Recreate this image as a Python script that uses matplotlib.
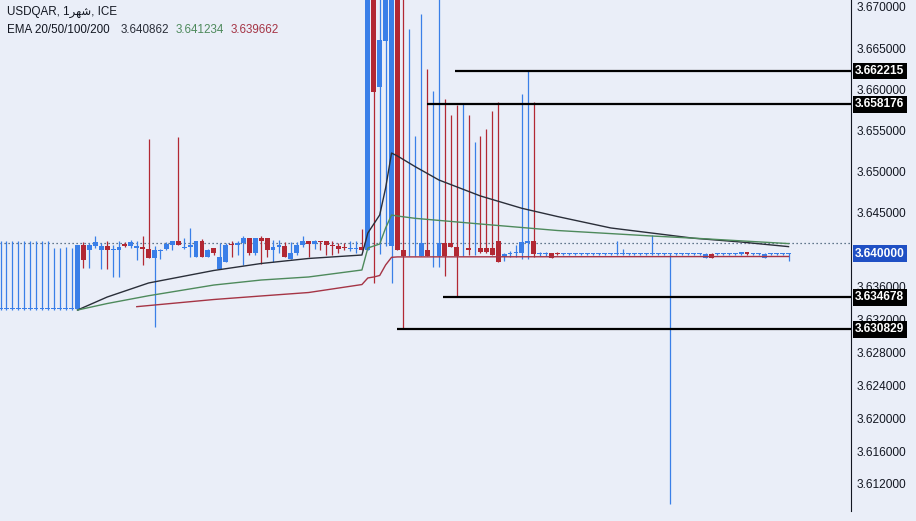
import matplotlib
matplotlib.use('Agg')
import matplotlib.pyplot as plt
from matplotlib.transforms import blended_transform_factory

plt.rcParams['font.family'] = ['Liberation Sans', 'DejaVu Sans']

# ---------------- data (monthly candles) ----------------
opens = [
    3.6333, 3.6333, 3.6333, 3.6333, 3.6333, 3.6333, 3.6333, 3.6333, 3.6333, 3.6333,
    3.6333, 3.6333, 3.6333, 3.6333, 3.6410, 3.6405, 3.6409, 3.6405, 3.6409, 3.6404,
    3.6405, 3.6412, 3.6409, 3.6407, 3.6408, 3.6406, 3.6395, 3.6403, 3.6406, 3.6411,
    3.6415, 3.6407, 3.6408, 3.6396, 3.6415, 3.6396, 3.6407, 3.6382, 3.6390, 3.6412,
    3.6410, 3.6413, 3.6419, 3.6401, 3.6419, 3.6419, 3.6404, 3.6408, 3.6409, 3.6394,
    3.6401, 3.6410, 3.6416, 3.6412, 3.6415, 3.6415, 3.6411, 3.6409, 3.6408, 3.6406,
    3.6406, 3.6408, 3.6405, 3.6850, 3.6603, 3.6659, 3.6409, 3.6850, 3.6404, 3.6398,
    3.6398, 3.6397, 3.6404, 3.6398, 3.6397, 3.6413, 3.6413, 3.6408, 3.6398, 3.6407,
    3.6404, 3.6407, 3.6407, 3.6407, 3.6415, 3.6396, 3.6400, 3.6401, 3.6401, 3.6413,
    3.6415, 3.6400, 3.6400, 3.6401, 3.6401, 3.6400, 3.6400, 3.6400, 3.6400, 3.6400,
    3.6400, 3.6400, 3.6400, 3.6400, 3.6400, 3.6400, 3.6400, 3.6400, 3.6400, 3.6400,
    3.6400, 3.6400, 3.6400, 3.6400, 3.6400, 3.6400, 3.6400, 3.6400, 3.6400, 3.6395,
    3.6400, 3.6400, 3.6400, 3.6400, 3.6400, 3.6400, 3.6402, 3.6400, 3.6400, 3.6395,
    3.6400, 3.6400, 3.6400, 3.6400,
]
highs = [
    3.6415, 3.6415, 3.6415, 3.6415, 3.6415, 3.6415, 3.6415, 3.6415, 3.6415, 3.6407,
    3.6407, 3.6408, 3.6407, 3.6411, 3.6414, 3.6413, 3.6421, 3.6413, 3.6415, 3.6411,
    3.6415, 3.6414, 3.6417, 3.6415, 3.6422, 3.6540, 3.6409, 3.6406, 3.6414, 3.6416,
    3.6542, 3.6419, 3.6431, 3.6415, 3.6418, 3.6406, 3.6407, 3.6413, 3.6413, 3.6415,
    3.6415, 3.6422, 3.6419, 3.6419, 3.6421, 3.6419, 3.6417, 3.6417, 3.6414, 3.6414,
    3.6414, 3.6422, 3.6416, 3.6417, 3.6416, 3.6415, 3.6415, 3.6413, 3.6413, 3.6415,
    3.6415, 3.6430, 3.6900, 3.6900, 3.6900, 3.6900, 3.6900, 3.6900, 3.6900, 3.6673,
    3.6543, 3.6692, 3.6625, 3.6598, 3.6900, 3.6588, 3.6569, 3.6581, 3.6582, 3.6569,
    3.6536, 3.6543, 3.6552, 3.6574, 3.6584, 3.6401, 3.6403, 3.6411, 3.6594, 3.66222,
    3.6584, 3.6402, 3.6402, 3.6401, 3.6402, 3.6401, 3.6401, 3.6401, 3.6401, 3.6401,
    3.6401, 3.6401, 3.6401, 3.6401, 3.6415, 3.6406, 3.6401, 3.6401, 3.6401, 3.6401,
    3.6423, 3.6401, 3.6401, 3.6401, 3.6401, 3.6401, 3.6401, 3.6401, 3.6401, 3.6401,
    3.6401, 3.6401, 3.6401, 3.6401, 3.6401, 3.6402, 3.6402, 3.6401, 3.6401, 3.6401,
    3.6401, 3.6401, 3.6401, 3.6401,
]
lows = [
    3.6332, 3.6332, 3.6332, 3.6332, 3.6332, 3.6332, 3.6332, 3.6332, 3.6332, 3.6332,
    3.6332, 3.6332, 3.6332, 3.6332, 3.6383, 3.6383, 3.6407, 3.6382, 3.6382, 3.6372,
    3.6372, 3.6408, 3.6407, 3.6392, 3.6386, 3.6395, 3.6311, 3.6394, 3.6405, 3.6405,
    3.6410, 3.6406, 3.6396, 3.6396, 3.6396, 3.6396, 3.6399, 3.6382, 3.6390, 3.6396,
    3.6399, 3.6386, 3.6399, 3.6399, 3.6388, 3.6396, 3.6390, 3.6401, 3.6396, 3.6394,
    3.6399, 3.6408, 3.6396, 3.6406, 3.6405, 3.6399, 3.6399, 3.6401, 3.6404, 3.6403,
    3.6401, 3.6405, 3.6405, 3.6364, 3.6400, 3.6409, 3.6364, 3.6405, 3.630829, 3.6397,
    3.6397, 3.6397, 3.6397, 3.6384, 3.6384, 3.6373, 3.6408, 3.634678, 3.6397, 3.6399,
    3.6399, 3.6401, 3.6401, 3.6398, 3.6390, 3.6391, 3.6396, 3.6396, 3.6394, 3.6394,
    3.6396, 3.6397, 3.6397, 3.6395, 3.6399, 3.6398, 3.6398, 3.6398, 3.6398, 3.6398,
    3.6398, 3.6398, 3.6398, 3.6398, 3.6398, 3.6398, 3.6398, 3.6398, 3.6398, 3.6398,
    3.6398, 3.6398, 3.6398, 3.6096, 3.6398, 3.6398, 3.6398, 3.6398, 3.6398, 3.6395,
    3.6395, 3.6398, 3.6398, 3.6398, 3.6398, 3.6398, 3.6398, 3.6398, 3.6398, 3.6395,
    3.6398, 3.6398, 3.6398, 3.6391,
]
closes = [
    3.6333, 3.6333, 3.6333, 3.6333, 3.6333, 3.6333, 3.6333, 3.6333, 3.6333, 3.6333,
    3.6333, 3.6333, 3.6333, 3.6410, 3.6392, 3.6410, 3.6414, 3.6409, 3.6404, 3.6406,
    3.6408, 3.6409, 3.6414, 3.6409, 3.6406, 3.6395, 3.6404, 3.6404, 3.6412, 3.6415,
    3.6411, 3.6408, 3.6411, 3.6415, 3.6396, 3.6405, 3.6401, 3.6396, 3.6411, 3.6410,
    3.6413, 3.6419, 3.6401, 3.6419, 3.6416, 3.6405, 3.6408, 3.6411, 3.6396, 3.6401,
    3.6411, 3.6416, 3.6412, 3.6416, 3.6414, 3.6410, 3.6409, 3.6406, 3.6407, 3.6407,
    3.6407, 3.6405, 3.6850, 3.6597, 3.6660, 3.6850, 3.6850, 3.6405, 3.6397, 3.6399,
    3.6399, 3.6413, 3.6397, 3.6399, 3.6413, 3.6397, 3.6408, 3.6397, 3.6399, 3.6404,
    3.6405, 3.6402, 3.6402, 3.6398, 3.6390, 3.6400, 3.6401, 3.6402, 3.6414, 3.6415,
    3.6400, 3.6401, 3.6401, 3.6395, 3.6400, 3.6401, 3.6401, 3.6401, 3.6401, 3.6401,
    3.6401, 3.6401, 3.6401, 3.6401, 3.6401, 3.6401, 3.6401, 3.6401, 3.6401, 3.6401,
    3.6401, 3.6401, 3.6401, 3.6401, 3.6401, 3.6401, 3.6401, 3.6401, 3.6401, 3.6400,
    3.6395, 3.6401, 3.6401, 3.6401, 3.6401, 3.6402, 3.6400, 3.6401, 3.6401, 3.6400,
    3.6401, 3.6401, 3.6401, 3.6400,
]

# EMA lines (bar index, value)
ema20_idx = [13, 18, 25, 36, 44, 52, 61, 62, 63, 64, 65, 66, 67, 70, 74, 81, 88, 94, 103, 117, 125, 133]
ema20_val = [3.63315, 3.63473, 3.63644, 3.63796, 3.63881, 3.63942, 3.63984, 3.64252, 3.64361, 3.64471,
             3.64799, 3.65224, 3.65188, 3.65058, 3.64896, 3.64702, 3.64552, 3.64452, 3.64313, 3.64188,
             3.64142, 3.64086]
ema50_idx = [13, 18, 25, 36, 44, 52, 61, 62, 63, 64, 65, 66, 67, 70, 81, 94, 110, 118, 133]
ema50_val = [3.63315, 3.63394, 3.63489, 3.63619, 3.63680, 3.63717, 3.63802, 3.64069, 3.64094, 3.64118,
             3.64313, 3.64471, 3.64458, 3.64430, 3.64361, 3.64282, 3.64215, 3.64185, 3.64123]
ema100_idx = [23, 36, 44, 52, 61, 62, 63, 64, 65, 66, 67, 133]
ema100_val = [3.63356, 3.63443, 3.63486, 3.63528, 3.63625, 3.63705, 3.63717, 3.63735, 3.63863, 3.63956,
              3.63961, 3.63966]

# horizontal levels: (price, first bar index)
level_prices = [3.662215, 3.658176, 3.634678, 3.630829]
level_starts = [76.7, 72.0, 74.7, 66.9]

tick_values = [3.670, 3.665, 3.660, 3.655, 3.650, 3.645, 3.636, 3.632, 3.628, 3.624, 3.620, 3.616, 3.612]
tick_labels = ['3.670000', '3.665000', '3.660000', '3.655000', '3.650000', '3.645000', '3.636000',
               '3.632000', '3.628000', '3.624000', '3.620000', '3.616000', '3.612000']
last_price = 3.640000
dotted_price = 3.6413
ema_legend = ['3.640862', '3.641234', '3.639662']

# ---------------- style ----------------
BG = '#eaeef8'
UP = '#3a7fe8'
DOWN = '#b22833'
C20 = '#2a2e39'
C50 = '#4e8a5c'
C100 = '#a53445'
TXT = '#131722'
FS = 8.6

W, H = 916, 521
fig = plt.figure(figsize=(W / 100, H / 100), dpi=100)
fig.patch.set_facecolor(BG)
ax = fig.add_axes([0, 10 / H, 851 / W, 511 / H])
ax.set_facecolor(BG)

n = len(opens)
xs = list(range(n))
cols = [UP if c >= o else DOWN for o, c in zip(opens, closes)]
bottoms = [min(o, c) for o, c in zip(opens, closes)]
heights = [max(abs(c - o), 0.00009) for o, c in zip(opens, closes)]

ax.vlines(xs, lows, highs, colors=cols, linewidth=0.9, zorder=2)
ax.bar(xs, heights, bottom=bottoms, width=0.82, color=cols, linewidth=0, zorder=3)

ax.plot(ema20_idx, ema20_val, color=C20, lw=1.0, zorder=4)
ax.plot(ema50_idx, ema50_val, color=C50, lw=1.0, zorder=4)
ax.plot(ema100_idx, ema100_val, color=C100, lw=1.0, zorder=4)

ax.axhline(dotted_price, color='#35506a', lw=0.9, ls=(0, (1, 2.2)), zorder=1)

x_right = (851 - 0.5) / 5.925
for p, s in zip(level_prices, level_starts):
    ax.hlines(p, s, x_right, colors='black', lw=1.6, zorder=5)

ax.set_xlim(-0.5 / 5.925, x_right)
ax.set_ylim(3.640 - (511 - 253.7) / 8224, 3.640 + 253.7 / 8224)

for s in ['top', 'left', 'bottom']:
    ax.spines[s].set_visible(False)
ax.spines['right'].set_color(TXT)
ax.spines['right'].set_linewidth(0.8)
ax.set_xticks([])
ax.yaxis.tick_right()
ax.set_yticks(tick_values)
ax.set_yticklabels(tick_labels)
ax.tick_params(axis='y', length=0, pad=4, labelsize=FS, labelcolor=TXT)

tr = blended_transform_factory(ax.transAxes, ax.transData)
for p in level_prices:
    ax.text(1.0 + 4 / 851, p, f'{p:.6f}', transform=tr, ha='left', va='center', fontsize=FS,
            fontweight='bold', color='white', zorder=10, clip_on=False,
            bbox=dict(boxstyle='square,pad=0.2', fc='black', ec='none'))
ax.text(1.0 + 4 / 851, last_price, f'{last_price:.6f}', transform=tr, ha='left', va='center',
        fontsize=FS, fontweight='bold', color='white', zorder=10, clip_on=False,
        bbox=dict(boxstyle='square,pad=0.2', fc='#1f4fc4', ec='none'))

# header texts
fig.text(7 / W, 1 - 12 / H, 'USDQAR, 1\ufeae\ufeec\ufeb7, ICE', fontsize=8.4, color=TXT, va='center', ha='left')
fig.text(7 / W, 1 - 30 / H, 'EMA 20/50/100/200', fontsize=8.4, color=TXT, va='center', ha='left')
fig.text(121 / W, 1 - 30 / H, ema_legend[0], fontsize=8.4, color=C20, va='center', ha='left')
fig.text(176 / W, 1 - 30 / H, ema_legend[1], fontsize=8.4, color=C50, va='center', ha='left')
fig.text(231 / W, 1 - 30 / H, ema_legend[2], fontsize=8.4, color=C100, va='center', ha='left')

fig.savefig('out.png', dpi=100, facecolor=BG)
